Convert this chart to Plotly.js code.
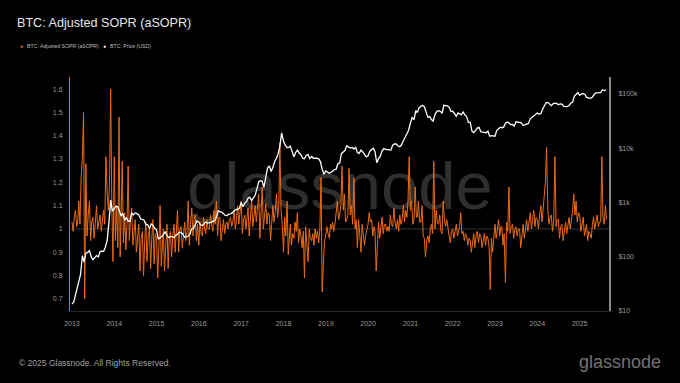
<!DOCTYPE html>
<html>
<head>
<meta charset="utf-8">
<script src="https://cdn.plot.ly/plotly-3.0.1.min.js"></script>
<style>
  html, body { margin: 0; padding: 0; background: #000; }
  #wrap { position: relative; width: 680px; height: 383px; overflow: hidden; background: #000; }
  #wm { position: absolute; left: 0; width: 680px; top: 152px; text-align: center;
        font-family: "Liberation Sans", Arial, sans-serif; font-size: 67px; line-height: 1;
        color: #2e2e2e; }
  #chart { position: absolute; left: 0; top: 0; width: 680px; height: 383px; }
</style>
</head>
<body>
<div id="wrap">
  <div id="wm">glassnode</div>
  <div id="chart"></div>
</div>
<script>
const years = [2013, 2014, 2015, 2016, 2017, 2018, 2019, 2020, 2021, 2022, 2023, 2024, 2025];

// aSOPR: three readings per month (1st, 11th, 21st)
const sopr2013 = [1.03, 0.99, 1.05, 1.08, 1.01, 1.04, 1.12, 1.02, 1.22, 1.31, 1.50, 0.70, 1.28, 0.97, 1.06, 1.12, 0.95, 1.03, 1.05, 0.96, 1.02, 1.10, 1.00, 1.04, 1.06, 0.99, 1.03, 1.08, 1.02, 1.31, 1.15, 1.08, 1.20, 1.60, 1.10, 0.86];
const sopr2014 = [1.31, 0.95, 1.10, 0.92, 1.48, 0.88, 1.05, 1.29, 0.94, 1.07, 0.91, 1.02, 1.27, 0.95, 1.04, 1.09, 0.93, 1.01, 1.04, 0.90, 0.98, 1.02, 0.82, 0.96, 0.99, 0.80, 0.95, 1.03, 0.86, 0.97, 1.00, 0.83, 0.96, 1.04, 0.85, 0.98];
const sopr2015 = [0.96, 0.79, 0.92, 1.10, 0.84, 0.97, 1.00, 0.82, 0.95, 1.02, 0.83, 0.96, 0.99, 0.88, 0.97, 1.02, 0.90, 0.98, 1.08, 0.90, 1.00, 1.01, 0.92, 0.97, 1.03, 0.95, 0.99, 1.12, 0.93, 1.02, 1.09, 0.97, 1.04, 1.06, 0.95, 1.02];
const sopr2016 = [0.93, 1.03, 0.98, 0.97, 1.05, 1.00, 0.98, 1.04, 1.00, 1.00, 1.06, 1.02, 0.99, 1.08, 1.02, 1.12, 0.97, 1.05, 1.05, 0.95, 1.01, 1.04, 0.98, 1.02, 1.03, 1.00, 1.04, 1.05, 1.01, 1.03, 1.08, 1.00, 1.04, 1.10, 1.02, 1.06];
const sopr2017 = [1.12, 0.98, 1.04, 1.06, 1.00, 1.05, 1.09, 0.97, 1.03, 1.12, 1.01, 1.06, 1.10, 1.03, 1.08, 1.15, 0.96, 1.05, 1.18, 1.00, 1.06, 1.11, 1.02, 1.07, 1.06, 0.95, 1.02, 1.10, 1.03, 1.07, 1.15, 1.05, 1.09, 1.37, 1.08, 1.02];
const sopr2018 = [0.90, 1.05, 0.97, 1.12, 0.89, 1.00, 1.02, 0.93, 0.98, 0.96, 1.03, 0.99, 1.07, 0.94, 1.00, 0.97, 0.92, 0.99, 0.79, 1.01, 0.95, 0.86, 1.00, 0.96, 0.95, 0.98, 0.93, 1.00, 0.96, 0.99, 0.94, 1.00, 1.22, 0.73, 0.84, 0.95];
const sopr2019 = [0.97, 1.01, 0.98, 0.96, 1.02, 1.00, 1.03, 0.99, 1.02, 1.08, 1.12, 1.04, 1.06, 1.10, 1.27, 1.08, 1.15, 1.03, 1.04, 1.06, 1.26, 1.06, 1.10, 1.02, 1.22, 1.00, 1.04, 0.92, 1.04, 0.98, 0.90, 1.02, 0.96, 0.93, 0.97, 1.00];
const sopr2020 = [1.02, 1.07, 1.03, 1.04, 0.97, 1.01, 0.99, 0.82, 0.93, 1.03, 0.96, 1.01, 1.05, 0.98, 1.02, 1.02, 0.99, 1.01, 0.99, 1.06, 1.02, 1.01, 1.09, 1.03, 1.00, 1.04, 0.99, 1.06, 1.02, 1.04, 1.10, 1.03, 1.08, 1.05, 1.12, 1.31];
const sopr2021 = [1.08, 1.12, 1.02, 1.04, 1.18, 1.05, 1.05, 1.12, 1.03, 1.03, 1.10, 0.97, 0.96, 0.88, 0.95, 0.97, 0.94, 1.00, 1.02, 0.98, 1.29, 1.00, 1.08, 1.03, 1.02, 1.06, 0.99, 0.98, 1.12, 1.04, 1.01, 1.04, 0.99, 0.97, 0.94, 0.99];
const sopr2022 = [1.00, 0.96, 0.99, 1.02, 0.97, 1.00, 1.01, 1.07, 0.98, 0.99, 0.95, 0.98, 0.97, 0.93, 0.96, 0.95, 0.90, 0.94, 0.98, 0.92, 0.97, 0.99, 0.94, 0.98, 0.97, 0.92, 0.96, 0.98, 0.93, 0.97, 0.96, 0.92, 0.74, 0.96, 0.90, 0.95];
const sopr2023 = [1.02, 0.96, 1.00, 1.04, 0.97, 1.01, 1.01, 0.93, 0.98, 0.77, 1.03, 0.99, 1.18, 0.98, 1.01, 1.02, 0.96, 1.00, 1.01, 0.97, 1.00, 1.00, 0.92, 0.98, 1.02, 0.96, 1.00, 1.04, 0.99, 1.02, 1.07, 1.00, 1.04, 1.08, 1.01, 1.05];
const sopr2024 = [1.04, 1.00, 1.06, 1.10, 1.03, 1.08, 1.12, 1.20, 1.35, 1.08, 1.02, 1.05, 1.06, 0.99, 1.03, 1.31, 1.01, 1.04, 1.04, 0.96, 1.01, 1.02, 0.95, 0.99, 1.03, 0.98, 1.01, 1.05, 1.00, 1.03, 1.08, 1.15, 1.06, 1.12, 1.03, 1.07];
const sopr2025 = [1.06, 0.99, 1.03, 1.05, 0.97, 1.01, 1.02, 0.95, 0.99, 0.98, 0.96, 1.02, 1.05, 1.00, 1.04, 1.06, 1.01, 1.03, 1.03, 1.31, 1.05, 1.02, 1.10, 1.04];

// BTC price: two readings per month (1st, 16th)
const price2013 = [13.5, 14.5, 20, 27, 34, 47, 104, 80, 116, 120, 129, 100, 88, 98, 105, 99, 125, 127, 125, 150, 200, 420, 1100, 690];
const price2014 = [760, 850, 830, 640, 560, 630, 470, 520, 450, 450, 630, 590, 640, 620, 590, 500, 480, 470, 390, 390, 330, 400, 380, 330];
const price2015 = [315, 210, 225, 235, 255, 290, 245, 225, 235, 235, 225, 250, 258, 280, 280, 260, 228, 230, 238, 262, 325, 330, 378, 455];
const price2016 = [432, 385, 375, 405, 436, 415, 416, 430, 450, 455, 530, 700, 675, 665, 620, 575, 572, 610, 615, 640, 700, 745, 740, 780];
const price2017 = [1000, 830, 970, 1030, 1190, 1250, 1080, 1180, 1350, 1750, 2400, 2500, 2480, 1900, 2750, 4300, 4700, 3700, 4400, 5600, 6500, 7900, 10900, 19000];
const price2018 = [13500, 11300, 10200, 10300, 10900, 8300, 6900, 8300, 9200, 8200, 7500, 6500, 6350, 7400, 7600, 6400, 7000, 6500, 6600, 6500, 6350, 5600, 4100, 3300];
const price2019 = [3800, 3600, 3450, 3600, 3800, 4000, 4100, 5200, 5300, 7900, 8500, 9000, 11000, 10600, 10000, 10300, 9600, 10300, 8300, 8000, 9200, 8500, 7500, 6900];
const price2020 = [7200, 8700, 9400, 9900, 8600, 5400, 6400, 7100, 8800, 9800, 9500, 9400, 9100, 9200, 11300, 11900, 11900, 10900, 10600, 11500, 13700, 16000, 19000, 21300];
const price2021 = [29000, 36500, 33500, 49000, 45000, 55000, 58800, 61500, 57700, 46400, 36700, 38000, 33500, 31500, 41500, 47000, 48800, 47700, 43800, 61500, 61300, 60000, 57000, 47600];
const price2022 = [47700, 43000, 38700, 44500, 43200, 41000, 46300, 40500, 38500, 29800, 29800, 20500, 19300, 21200, 23300, 24000, 20100, 19700, 19400, 19200, 20500, 16600, 17000, 16800];
const price2023 = [16600, 21200, 23100, 24300, 23600, 24300, 28500, 30300, 29200, 27000, 27200, 25600, 30500, 30200, 29300, 29200, 26000, 26700, 27000, 28500, 34600, 36500, 38700, 42200];
const price2024 = [44200, 42500, 43100, 52000, 61200, 68300, 69600, 63400, 60600, 65300, 67500, 66600, 62700, 64800, 64600, 58500, 58900, 58200, 61000, 67000, 70200, 91000, 97000, 105000];
const price2025 = [94000, 100000, 101000, 97000, 86000, 83000, 82500, 85000, 94000, 103000, 104000, 106000, 105500, 119000, 115000, 118000];

const soprByYear = [sopr2013, sopr2014, sopr2015, sopr2016, sopr2017, sopr2018, sopr2019, sopr2020, sopr2021, sopr2022, sopr2023, sopr2024, sopr2025];
const priceByYear = [price2013, price2014, price2015, price2016, price2017, price2018, price2019, price2020, price2021, price2022, price2023, price2024, price2025];
const soprDays = ['01', '11', '21'];
const priceDays = ['01', '16'];

const yTickVals = [0.7, 0.8, 0.9, 1, 1.1, 1.2, 1.3, 1.4, 1.5, 1.6];
const priceTickVals = [10, 100, 1000, 10000, 100000];
const priceTickText = ['$10', '$100', '$1k', '$10k', '$100k'];

const seriesNames = ['BTC: Adjusted SOPR (aSOPR)', 'BTC: Price (USD)'];
const titleText = 'BTC: Adjusted SOPR (aSOPR)';
const footerText = '© 2025 Glassnode. All Rights Reserved.';
const logoText = 'glassnode';

function datesFor(year, n, days) {
  const out = [];
  for (let i = 0; i < n; i++) {
    const m = Math.floor(i / days.length) + 1;
    out.push(year + '-' + String(m).padStart(2, '0') + '-' + days[i % days.length]);
  }
  return out;
}
let xSopr = [], sopr = [], xPrice = [], price = [];
years.forEach((y, k) => {
  xSopr = xSopr.concat(datesFor(y, soprByYear[k].length, soprDays));
  sopr = sopr.concat(soprByYear[k]);
  xPrice = xPrice.concat(datesFor(y, priceByYear[k].length, priceDays));
  price = price.concat(priceByYear[k]);
});

const ORANGE = '#ec6c12';
const W = 680, H = 383, ML = 70, MR = 71, MT = 77, MB = 72;
const PW = W - ML - MR, PH = H - MT - MB;
const px = v => (v - ML) / PW;
const py = v => (H - MB - v) / PH;
const FONT = 'Liberation Sans, Arial, sans-serif';

const traces = [
  { x: xSopr, y: sopr, type: 'scatter', mode: 'lines', name: seriesNames[0],
    line: { color: ORANGE, width: 1 }, yaxis: 'y', showlegend: false },
  { x: xPrice, y: price, type: 'scatter', mode: 'lines', name: seriesNames[1],
    line: { color: '#ffffff', width: 1.3 }, yaxis: 'y2', showlegend: false }
];

const tickFont = { family: FONT, size: 7, color: '#9a9a9a' };

const layout = {
  width: W, height: H,
  margin: { l: ML, r: MR, t: MT, b: MB, pad: 0 },
  paper_bgcolor: 'rgba(0,0,0,0)',
  plot_bgcolor: 'rgba(0,0,0,0)',
  showlegend: false,
  title: { text: titleText, x: 17 / W, xanchor: 'left', xref: 'container',
           y: 1 - 23 / H, yanchor: 'middle', yref: 'container',
           font: { family: FONT, size: 12.6, color: '#e6e6e6' } },
  xaxis: {
    type: 'date', range: ['2012-12-15', '2025-09-11'],
    dtick: 'M12', tick0: '2013-01-01', tickformat: '%Y',
    showgrid: false, zeroline: false,
    showline: true, linecolor: '#262626', linewidth: 1,
    ticks: 'outside', ticklen: 6, tickcolor: 'rgba(0,0,0,0)',
    tickfont: tickFont
  },
  yaxis: {
    range: [0.648, 1.652], tickvals: yTickVals,
    showgrid: false, zeroline: false,
    showline: true, linecolor: ORANGE, linewidth: 1,
    ticks: 'outside', ticklen: 5, tickcolor: 'rgba(0,0,0,0)',
    tickfont: tickFont
  },
  yaxis2: {
    type: 'log', overlaying: 'y', side: 'right',
    range: [1, 1 + PH / 54.3],
    tickvals: priceTickVals, ticktext: priceTickText,
    showgrid: false, zeroline: false,
    showline: true, linecolor: '#8a8a8a', linewidth: 2,
    ticks: 'outside', ticklen: 6, tickcolor: 'rgba(0,0,0,0)',
    tickfont: tickFont
  },
  shapes: [
    { type: 'line', xref: 'paper', x0: 0, x1: 1, yref: 'y', y0: 1, y1: 1,
      line: { color: 'rgba(170,170,170,0.45)', width: 0.7 }, layer: 'below' }
  ],
  annotations: [
    { text: '●', x: px(21.7), y: py(46), xref: 'paper', yref: 'paper', xanchor: 'center', yanchor: 'middle',
      showarrow: false, font: { size: 5, color: ORANGE } },
    { text: seriesNames[0], x: px(24.5), y: py(46), xref: 'paper', yref: 'paper', xanchor: 'left', yanchor: 'middle',
      showarrow: false, font: { family: FONT, size: 5.2, color: '#bdbdbd' } },
    { text: '●', x: px(104.5), y: py(46), xref: 'paper', yref: 'paper', xanchor: 'center', yanchor: 'middle',
      showarrow: false, font: { size: 5, color: '#ffffff' } },
    { text: seriesNames[1], x: px(107.5), y: py(46), xref: 'paper', yref: 'paper', xanchor: 'left', yanchor: 'middle',
      showarrow: false, font: { family: FONT, size: 5.2, color: '#bdbdbd' } },
    { text: footerText, x: px(17), y: py(363), xref: 'paper', yref: 'paper', xanchor: 'left', yanchor: 'middle',
      showarrow: false, font: { family: FONT, size: 8.5, color: '#a0a0a0' } },
    { text: logoText, x: px(663), y: py(362), xref: 'paper', yref: 'paper', xanchor: 'right', yanchor: 'middle',
      showarrow: false, font: { family: FONT, size: 18, color: '#737373' } }
  ]
};

Plotly.newPlot('chart', traces, layout, { staticPlot: true, displayModeBar: false });
</script>
</body>
</html>
